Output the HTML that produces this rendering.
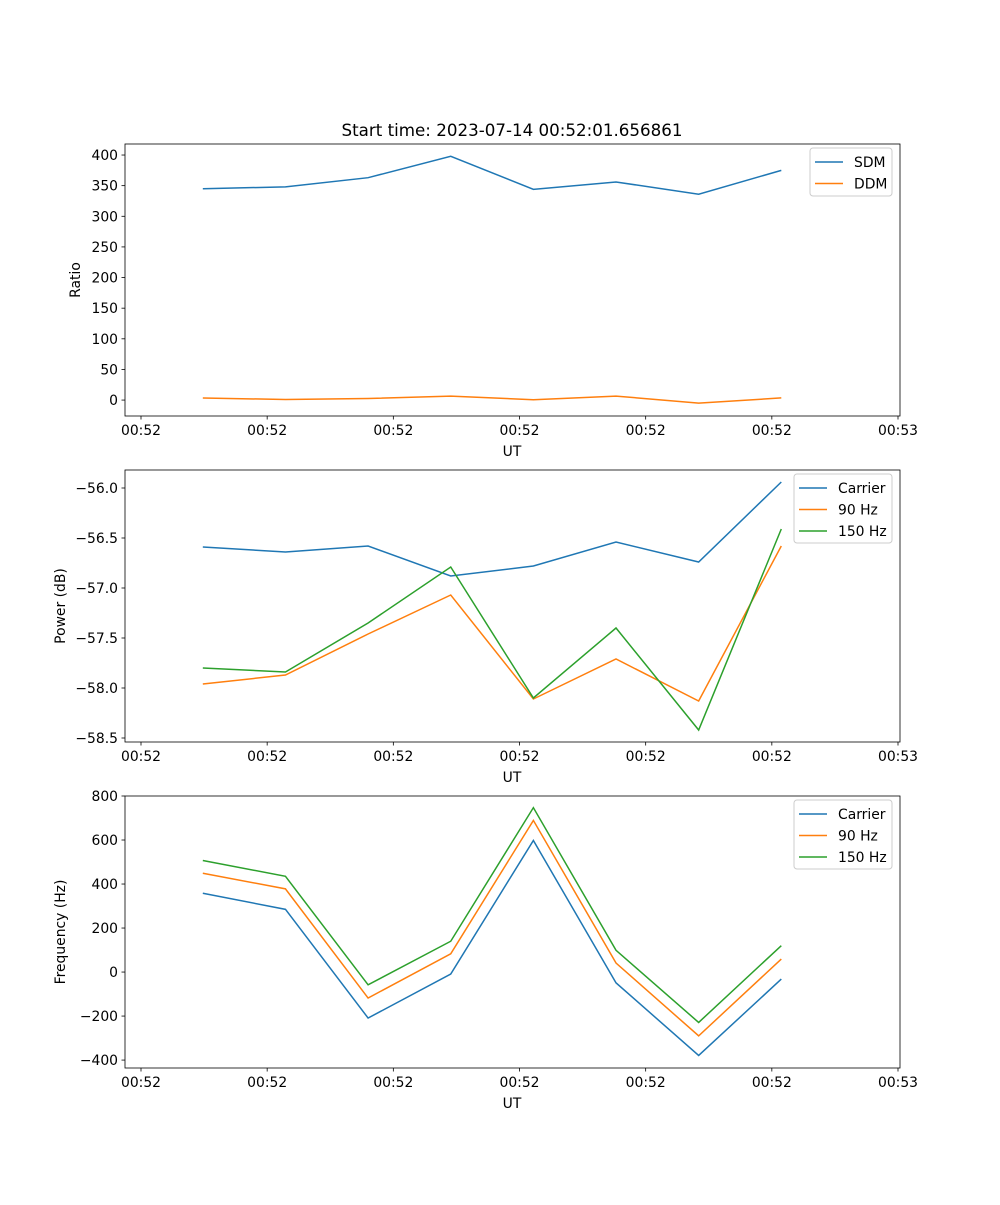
<!DOCTYPE html>
<html><head><meta charset="utf-8"><style>
body{margin:0;background:#fff}
svg text{font-family:"DejaVu Sans","Liberation Sans",sans-serif;font-size:13.9px;fill:#000}
</style></head><body>
<svg id="fig" width="1000" height="1200" xmlns="http://www.w3.org/2000/svg">
<rect width="1000" height="1200" fill="#fff"/>
<text x="512" y="136" text-anchor="middle" style="font-size:16.7px">Start time: 2023-07-14 00:52:01.656861</text>
</svg>
<script>
const times=[4.9,11.45,18.0,24.55,31.1,37.65,44.2,50.75];
const xTicks=[0,10,20,30,40,50,60];
const xTickLabels=["00:52","00:52","00:52","00:52","00:52","00:52","00:53"];
const sdm=[345,348,363,398,344,356,336,375];
const ddm=[3.3,1,2.5,6.5,0.5,6.5,-5,3.5];
const pCarrier=[-56.59,-56.64,-56.58,-56.88,-56.78,-56.54,-56.74,-55.94];
const p90=[-57.96,-57.87,-57.46,-57.07,-58.11,-57.71,-58.13,-56.58];
const p150=[-57.8,-57.84,-57.35,-56.79,-58.1,-57.40,-58.42,-56.41];
const fCarrier=[358,285,-209,-9,598,-49,-379,-32];
const f90=[449,378,-118,83,689,41,-290,59];
const f150=[507,435,-58,140,747,99,-229,120];
const ticks1=[0,50,100,150,200,250,300,350,400];
const ticks2=[-58.5,-58.0,-57.5,-57.0,-56.5,-56.0];
const ticks3=[-400,-200,0,200,400,600,800];
const C=["#1f77b4","#ff7f0e","#2ca02c"];
const NS="http://www.w3.org/2000/svg";
const svg=document.getElementById('fig');
function mk(tag,attrs,parent){const e=document.createElementNS(NS,tag);for(const k in attrs)e.setAttribute(k,attrs[k]);(parent||svg).appendChild(e);return e;}
const L=125,R=900;
const xs=t=>L+16+(t-0)*(898-141)/60;
function panel(top,bot,ymin,ymax,ticks,fmt,ylabel,series,names,legendW,pname){
  const g=mk('g',{});
  
  
  const ys=v=>bot-(v-ymin)/(ymax-ymin)*(bot-top);
  for(let i=0;i<series.length;i++){
    const p=mk('polyline',{points:series[i].map((v,j)=>xs(times[j])+','+ys(v)).join(' '),fill:'none',stroke:C[i],'stroke-width':1.5},g);
    
    
  }
  const fr=mk('rect',{x:L,y:top,width:R-L,height:bot-top,fill:'none',stroke:'#000','stroke-width':0.8},g);
  
  
  ticks.forEach(v=>{const y=ys(v);mk('line',{x1:L-3.5,x2:L,y1:y,y2:y,stroke:'#000','stroke-width':0.8},g);
    const t=mk('text',{x:L-7,y:y+5,'text-anchor':'end'},g);t.textContent=fmt(v);
    
    });
  xTicks.forEach((v,i)=>{const x=xs(v);mk('line',{x1:x,x2:x,y1:bot,y2:bot+3.5,stroke:'#000','stroke-width':0.8},g);
    const t=mk('text',{x:x,y:bot+19,'text-anchor':'middle'},g);t.textContent=xTickLabels[i];
    
    });
  const xl=mk('text',{x:512,y:bot+40,'text-anchor':'middle'},g);xl.textContent='UT';
  
  
  const cy=(top+bot)/2, yx=L-(ylabel==='Ratio'?45:60);
  const yl=mk('text',{x:yx,y:cy,'text-anchor':'middle',transform:`rotate(-90 ${yx} ${cy})`},g);yl.textContent=ylabel;
  
  
  const lw=legendW,lx=R-8-lw,ly=top+4,lh=6+names.length*21;
  const lg=mk('g',{},g);
  
  
  mk('rect',{x:lx,y:ly,width:lw,height:lh,rx:3,fill:'#fff','fill-opacity':0.8,stroke:'#ccc','stroke-width':1},lg);
  names.forEach((n,i)=>{const y=ly+14+i*21.5;mk('line',{x1:lx+5,x2:lx+33,y1:y,y2:y,stroke:C[i],'stroke-width':1.5},lg);
    const t=mk('text',{x:lx+44,y:y+5},lg);t.textContent=n;
    
    });
}
panel(144,416,-26,418,ticks1,v=>String(v),'Ratio',[sdm,ddm],['SDM','DDM'],82,'ratio-panel');
panel(470,742,-58.54,-55.82,ticks2,v=>'\u2212'+Math.abs(v).toFixed(1),'Power (dB)',[pCarrier,p90,p150],['Carrier','90 Hz','150 Hz'],98,'power-panel');
panel(796,1068,-436,800,ticks3,v=>(v<0?'\u2212':'')+Math.abs(v),'Frequency (Hz)',[fCarrier,f90,f150],['Carrier','90 Hz','150 Hz'],98,'frequency-panel');
</script>
</body></html>
